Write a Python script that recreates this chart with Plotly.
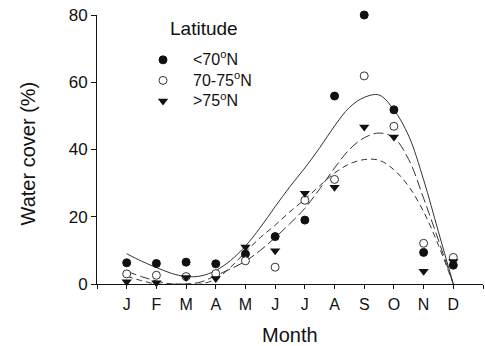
import plotly.graph_objects as go

# ---- data ----
month_labels = ['J', 'F', 'M', 'A', 'M', 'J', 'J', 'A', 'S', 'O', 'N', 'D']
month_pos = list(range(1, 13))

lt70 = [6.3, 6.1, 6.5, 6.0, 8.9, 14.1, 19.0, 55.9, 80.0, 51.8, 9.4, 5.6]
mid7075 = [3.0, 2.6, 2.2, 3.1, 6.9, 5.0, 24.9, 31.1, 61.9, 46.9, 12.1, 7.9]
gt75 = [0.7, 0.4, 1.9, 1.6, 11.0, 9.9, 27.0, 28.8, 46.7, 43.7, 3.8, 6.7]

# fitted curves (clipped at 0)
fit_x = [1, 1.5, 2, 2.5, 3, 3.5, 4, 4.5, 5, 5.5, 6, 6.5, 7, 7.5, 8, 8.5,
         9, 9.5, 10, 10.5, 11, 11.5, 12]
fit_lt70 = [9.0, 6.8, 4.9, 3.2, 2.2, 2.4, 4.0, 7.0, 11.3, 16.8, 23.0, 29.0,
            34.5, 40.5, 47.0, 52.5, 55.5, 56.2, 51.8, 44.0, 31.0, 15.5, 0.0]
fit_mid = [3.8, 2.2, 0.9, 0.0, 0.0, 0.6, 2.5, 4.5, 6.8, 10.0, 13.8, 18.0,
           22.5, 28.3, 34.5, 40.0, 43.5, 44.9, 43.5, 37.0, 25.5, 13.0, 0.0]
fit_gt75 = [2.3, 1.0, 0.0, 0.0, 0.0, 0.0, 1.5, 5.0, 9.5, 13.8, 17.5, 21.5,
            25.2, 29.2, 33.0, 35.7, 37.0, 36.8, 34.0, 29.0, 21.5, 11.5, 0.0]

series_names = ['&lt;70<sup>o</sup>N', '70-75<sup>o</sup>N', '&gt;75<sup>o</sup>N']
y_ticks = [0, 20, 40, 60, 80]
x_end_ticks = [0, 13]

FONT = 'Liberation Sans, Arial, sans-serif'
INK = '#111111'

fig = go.Figure()

# curves
fig.add_trace(go.Scatter(x=fit_x, y=fit_lt70, mode='lines', line_shape='spline',
                         line=dict(color='#333333', width=1), showlegend=False,
                         hoverinfo='skip'))
fig.add_trace(go.Scatter(x=fit_x, y=fit_mid, mode='lines', line_shape='spline',
                         line=dict(color='#333333', width=1, dash='10px,4px'),
                         showlegend=False, hoverinfo='skip'))
fig.add_trace(go.Scatter(x=fit_x, y=fit_gt75, mode='lines', line_shape='spline',
                         line=dict(color='#333333', width=1, dash='6px,4px'),
                         showlegend=False, hoverinfo='skip'))

def leg(name):
    return '<span style="font-size:16px">' + name + '</span>'

# points
fig.add_trace(go.Scatter(x=month_pos, y=lt70, mode='markers', name=leg(series_names[0]),
                         cliponaxis=False,
                         marker=dict(symbol='circle', size=8, color=INK,
                                     line=dict(color=INK, width=1))))
fig.add_trace(go.Scatter(x=month_pos, y=mid7075, mode='markers', name=leg(series_names[1]),
                         cliponaxis=False,
                         marker=dict(symbol='circle', size=8, color='white',
                                     line=dict(color='#333333', width=1))))
fig.add_trace(go.Scatter(x=month_pos, y=gt75, mode='markers', name=leg(series_names[2]),
                         cliponaxis=False,
                         marker=dict(symbol='triangle-down', size=9, color=INK,
                                     line=dict(color=INK, width=0))))

fig.update_layout(
    width=485, height=346,
    margin=dict(l=97, r=2, t=15, b=62),
    paper_bgcolor='white', plot_bgcolor='white',
    font=dict(family=FONT, color=INK),
    showlegend=True,
    legend=dict(x=0.0933, y=0.89, xanchor='left', yanchor='top',
                bgcolor='rgba(0,0,0,0)', font=dict(size=13.5, family=FONT),
                itemwidth=50, tracegroupgap=0),
    xaxis=dict(range=[0, 13], tickvals=month_pos, ticktext=month_labels,
               ticks='outside', ticklen=4, tickcolor=INK,
               minor=dict(tickvals=x_end_ticks, ticks='outside', ticklen=4,
                          tickcolor=INK),
               showline=True, linecolor=INK, linewidth=1,
               showgrid=False, zeroline=False, ticklabelstandoff=2,
               tickfont=dict(size=16)),
    yaxis=dict(range=[0, 80], tickvals=y_ticks,
               ticks='outside', ticklen=5, tickcolor=INK,
               showline=True, linecolor=INK, linewidth=1,
               showgrid=False, zeroline=False,
               tickfont=dict(size=17)),
    annotations=[
        dict(text='Latitude', xref='paper', yref='paper', x=0.184, y=0.948,
             xanchor='left', yanchor='middle', showarrow=False,
             font=dict(size=19, family=FONT)),
        dict(text='Month', xref='paper', yref='paper', x=0.5, y=-0.19,
             xanchor='center', yanchor='middle', showarrow=False,
             font=dict(size=20, family=FONT)),
        dict(text='Water cover (%)', xref='paper', yref='paper', x=-0.179, y=0.485,
             xanchor='center', yanchor='middle', showarrow=False, textangle=-90,
             font=dict(size=20, family=FONT)),
    ],
)

fig.write_html('out.html', config={'displayModeBar': False},
               post_script="document.body.style.margin='0';")
